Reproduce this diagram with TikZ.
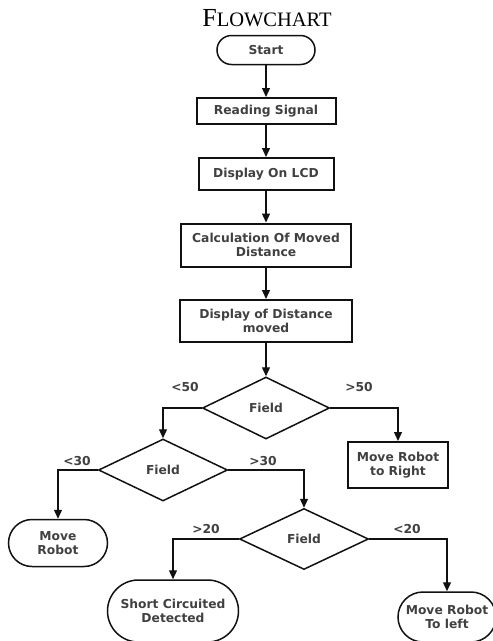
\documentclass[tikz,border=0pt]{standalone}
\usepackage{fontspec}
\setmainfont{Liberation Serif}
\newfontfamily\flowfont{DejaVu Sans}
\usetikzlibrary{arrows.meta,shapes.geometric,shapes.misc,positioning}
\definecolor{ink}{HTML}{111111}
\definecolor{txt}{HTML}{404040}

\begin{document}
\begin{tikzpicture}[x=1pt,y=-1pt,
  base/.style={draw=ink,font=\flowfont\fontsize{12.3}{14}\selectfont\bfseries\color{txt},align=center,inner sep=0pt},
  stepbox/.style={base,rectangle,line width=2pt},
  term/.style={base,rounded rectangle,line width=1.5pt},
  decide/.style={base,diamond,line width=1.5pt},
  lbl/.style={font=\flowfont\fontsize{12.3}{14}\selectfont\bfseries\color{txt},inner sep=0pt},
  arr/.style={draw=ink,line width=1.3pt,-{Triangle[length=9pt,width=8pt]}}]
  \useasboundingbox (0,0) rectangle (493,641);
  \node[font=\fontsize{26}{26}\selectfont] (title) at (267,18) {F{\fontsize{20.5}{20}\selectfont LOWCHART}};
  % main column
  \node[term,minimum width=98,minimum height=29] (start) at (266,50) {Start};
  \node[stepbox,minimum width=139,minimum height=26] (read) at (266,111) {Reading Signal};
  \node[stepbox,minimum width=135,minimum height=32] (lcd) at (266,174) {Display On LCD};
  \node[stepbox,minimum width=170,minimum height=43] (calc) at (266,245) {Calculation Of Moved\\Distance};
  \node[stepbox,minimum width=172,minimum height=42] (disp) at (266,321) {Display of Distance\\moved};
  % decisions
  \node[decide,minimum width=127,minimum height=62] (f1) at (266,408) {Field};
  \node[decide,minimum width=129,minimum height=62] (f2) at (163,470) {Field};
  \node[decide,minimum width=129,minimum height=61] (f3) at (304,539) {Field};
  % results
  \node[stepbox,minimum width=100,minimum height=46] (right) at (398,465) {Move Robot\\to Right};
  \node[term,minimum width=99,minimum height=47] (robot) at (58,543) {Move\\Robot};
  \node[term,minimum width=131,minimum height=62] (short) at (173,611) {Short Circuited\\Detected};
  \node[term,minimum width=98,minimum height=50] (left) at (447,617) {Move Robot\\To left};
  % branch labels
  \node[lbl] (l50) at (185,387) {<50};
  \node[lbl] (g50) at (359,387) {>50};
  \node[lbl] (l30) at (77,461) {<30};
  \node[lbl] (g30) at (263,461) {>30};
  \node[lbl] (g20) at (206,529) {>20};
  \node[lbl] (l20) at (407,529) {<20};
  % connectors
  \foreach \a/\b in {start/read,read/lcd,lcd/calc,calc/disp,disp/f1}
    \draw[arr] (\a) -- (\b);
  \draw[arr] (f1.west) -| (f2.north);
  \draw[arr] (f1.east) -| (right.north);
  \draw[arr] (f2.west) -| (robot.north);
  \draw[arr] (f2.east) -| (f3.north);
  \draw[arr] (f3.west) -| (short.north);
  \draw[arr] (f3.east) -| (left.north);
\end{tikzpicture}
\end{document}
